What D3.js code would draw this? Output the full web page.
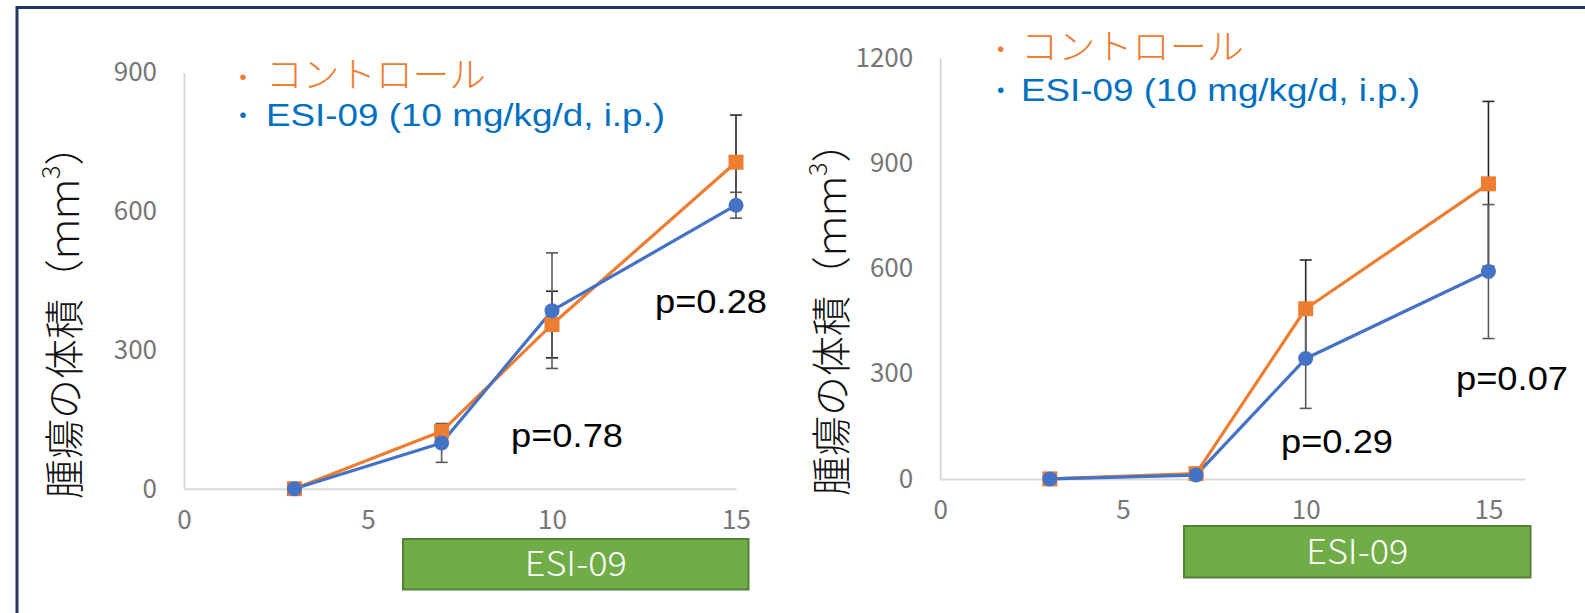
<!DOCTYPE html>
<html>
<head>
<meta charset="utf-8">
<script src="https://cdn.jsdelivr.net/npm/d3@7"></script>
<style>
  html, body { margin: 0; padding: 0; background: #ffffff; }
  svg { display: block; }
</style>
</head>
<body>
<svg id="chart" width="1585" height="613"></svg>
<script>
// ---------------- data ----------------
const days = [3, 7, 10, 15];
const xTicks = [0, 5, 10, 15];

// left panel
const ctrlA = [0, 124, 355, 706];
const ctrlAErr = [0, 15, 72, 102];
const esiA = [0, 99, 385, 613];
const esiAErr = [0, 42, 125, 28];
const yTicksA = [0, 300, 600, 900];
const pLabelsA = ["p=0.78", "p=0.28"];

// right panel
const ctrlB = [0, 15, 485, 841];
const ctrlBErr = [0, 3, 139, 235];
const esiB = [0, 11, 343, 591];
const esiBErr = [0, 3, 142, 191];
const yTicksB = [0, 300, 600, 900, 1200];
const pLabelsB = ["p=0.29", "p=0.07"];

const legendLabels = ["コントロール", "ESI-09 (10 mg/kg/d, i.p.)"];
const yTitleMain = "腫瘍の体積（ｍｍ";
const yTitleSup = "3";
const yTitleEnd = "）";
const boxLabel = "ESI-09";

// ---------------- styles ----------------
const ORANGE = "#ed7d31";
const BLUE = "#4472c4";
const LEGEND_BLUE = "#0070c0";
const GREEN = "#70ad47";
const GREEN_DARK = "#548235";
const AXIS = "#d9d9d9";
const TICK = "#767676";
const JP = "'Noto Sans CJK JP', 'Noto Sans CJK SC', sans-serif";
const LAT = "'Liberation Sans', Arial, sans-serif";

const svg = d3.select("#chart");

// outer frame
svg.append("rect")
  .attr("x", 17).attr("y", 7.5)
  .attr("width", 1700).attr("height", 800)
  .attr("fill", "none")
  .attr("stroke", "#1f3864")
  .attr("stroke-width", 3);

const panels = [
  {
    ctrl: ctrlA, ctrlErr: ctrlAErr, esi: esiA, esiErr: esiAErr,
    yTicks: yTicksA, yMax: 900, xMax: 15,
    xRange: [184, 736], yRange: [488.7, 72.5],
    pLabels: pLabelsA, pPos: [[511, 447], [655, 313]],
    legendX: 243, legendTextX: 266, legendY: [88, 126], orangeLen: 220,
    titleX: 61.7, titleY: 499,
    box: [403, 539, 345.5, 50.5]
  },
  {
    ctrl: ctrlB, ctrlErr: ctrlBErr, esi: esiB, esiErr: esiBErr,
    yTicks: yTicksB, yMax: 1200, xMax: 16,
    xRange: [940.2, 1525], yRange: [478.9, 57.9],
    pLabels: pLabelsB, pPos: [[1281, 453], [1456, 390]],
    legendX: 1000.7, legendTextX: 1021, legendY: [59.5, 101], orangeLen: 223,
    titleX: 828.8, titleY: 496,
    box: [1184, 526, 346.5, 51.5]
  }
];

panels.forEach(p => {
  const x = d3.scaleLinear().domain([0, p.xMax]).range(p.xRange);
  const y = d3.scaleLinear().domain([0, p.yMax]).range(p.yRange);
  const g = svg.append("g");

  // axes
  const yAxis = g.append("g")
    .attr("transform", `translate(${p.xRange[0]},0)`)
    .call(d3.axisLeft(y).tickValues(p.yTicks).tickFormat(d3.format("d"))
      .tickSize(0).tickSizeOuter(0).tickPadding(27));
  const xAxis = g.append("g")
    .attr("transform", `translate(0,${p.yRange[0]})`)
    .call(d3.axisBottom(x).tickValues(xTicks).tickFormat(d3.format("d"))
      .tickSize(0).tickSizeOuter(0).tickPadding(22));
  [yAxis, xAxis].forEach(a => {
    a.select(".domain").attr("stroke", AXIS).attr("stroke-width", 2);
    a.selectAll("text")
      .attr("fill", TICK)
      .style("font-family", JP)
      .style("font-weight", 400)
      .style("font-size", "26px");
  });

  // y title
  const t = g.append("text")
    .attr("transform", `translate(${p.titleX},${p.titleY}) rotate(-90)`)
    .attr("dominant-baseline", "central")
    .style("font-family", JP)
    .style("font-weight", 300)
    .style("font-size", "40px")
    .attr("fill", "#111");
  t.append("tspan").text(yTitleMain);
  t.append("tspan").attr("dy", -13).style("font-size", "25px").text(yTitleSup);
  t.append("tspan").attr("dy", 13).text(yTitleEnd);

  // series
  const series = [
    { vals: p.ctrl, err: p.ctrlErr, color: ORANGE, errColor: "#262626", shape: "square" },
    { vals: p.esi, err: p.esiErr, color: BLUE, errColor: "#595959", shape: "circle" }
  ];
  const line = d3.line().x(d => x(d[0])).y(d => y(d[1]));

  series.forEach(s => {
    g.append("path")
      .datum(days.map((d, i) => [d, s.vals[i]]))
      .attr("d", line)
      .attr("fill", "none")
      .attr("stroke", s.color)
      .attr("stroke-width", 3.2)
      .attr("stroke-linejoin", "round");
  });

  series.forEach(s => {
    const eb = g.append("g");
    days.forEach((d, i) => {
      if (s.err[i] <= 5) return;
      const cx = x(d), lo = y(s.vals[i] - s.err[i]), hi = y(s.vals[i] + s.err[i]);
      eb.append("line").attr("x1", cx).attr("x2", cx).attr("y1", lo).attr("y2", hi)
        .attr("stroke", s.errColor).attr("stroke-width", 1.6);
      [lo, hi].forEach(yy => eb.append("line")
        .attr("x1", cx - 6).attr("x2", cx + 6).attr("y1", yy).attr("y2", yy)
        .attr("stroke", s.errColor).attr("stroke-width", 1.6));
    });
  });

  series.forEach(s => {
    days.forEach((d, i) => {
      if (s.shape === "square") {
        g.append("rect")
          .attr("x", x(d) - 7.5).attr("y", y(s.vals[i]) - 7.5)
          .attr("width", 15).attr("height", 15)
          .attr("fill", s.color);
      } else {
        g.append("circle")
          .attr("cx", x(d)).attr("cy", y(s.vals[i])).attr("r", 7.5)
          .attr("fill", s.color);
      }
    });
  });

  // legend
  const legColors = [ORANGE, LEGEND_BLUE];
  legendLabels.forEach((lab, i) => {
    g.append("text")
      .attr("x", p.legendX).attr("y", p.legendY[i] - 13)
      .attr("text-anchor", "middle")
      .attr("dominant-baseline", "central")
      .style("font-family", JP).style("font-size", "22px").style("font-weight", 700)
      .attr("fill", legColors[i]).text("・");
    const tx = g.append("text")
      .attr("x", p.legendTextX).attr("y", p.legendY[i])
      .attr("fill", legColors[i])
      .attr("lengthAdjust", "spacingAndGlyphs")
      .text(lab);
    if (i === 0) {
      tx.style("font-family", JP).style("font-weight", 300).style("font-size", "36px")
        .attr("textLength", p.orangeLen);
    } else {
      tx.style("font-family", LAT).style("font-size", "32px").attr("textLength", 399);
    }
  });

  // p-values
  p.pLabels.forEach((lab, i) => {
    g.append("text")
      .attr("x", p.pPos[i][0]).attr("y", p.pPos[i][1])
      .style("font-family", LAT).style("font-size", "33px")
      .attr("fill", "#000")
      .attr("textLength", 112).attr("lengthAdjust", "spacingAndGlyphs")
      .text(lab);
  });

  // ESI-09 treatment box
  const [bx, by, bw, bh] = p.box;
  g.append("rect")
    .attr("x", bx).attr("y", by).attr("width", bw).attr("height", bh)
    .attr("fill", GREEN).attr("stroke", GREEN_DARK).attr("stroke-width", 2);
  g.append("text")
    .attr("x", bx + bw / 2).attr("y", by + bh / 2 + 12)
    .attr("text-anchor", "middle")
    .style("font-family", JP).style("font-weight", 300).style("font-size", "34px")
    .attr("fill", "#fff")
    .attr("textLength", 102).attr("lengthAdjust", "spacingAndGlyphs")
    .text(boxLabel);
});
</script>
</body>
</html>
